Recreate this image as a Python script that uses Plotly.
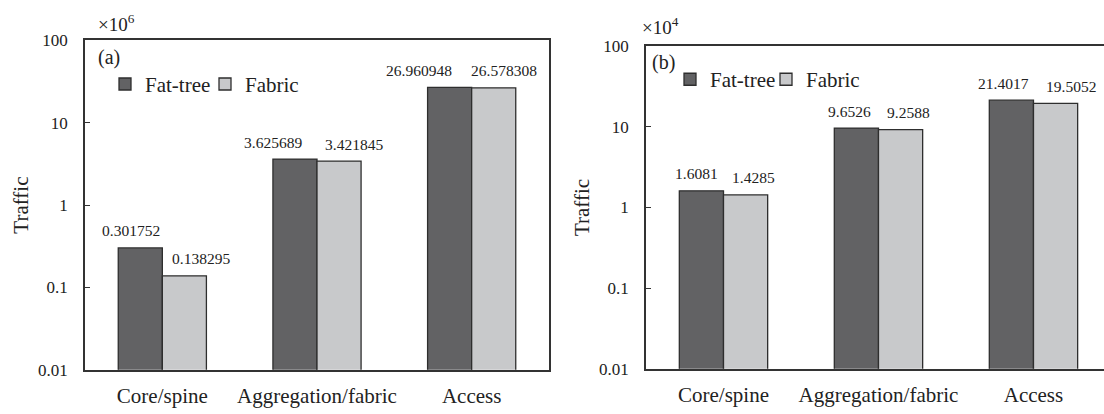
import math
import plotly.graph_objects as go

# ---------------- data ----------------
categories = ["Core/spine", "Aggregation/fabric", "Access"]
series_names = ["Fat-tree", "Fabric"]

a_fattree = [0.301752, 3.625689, 26.960948]   # panel (a), x10^6
a_fabric = [0.138295, 3.421845, 26.578308]
b_fattree = [1.6081, 9.6526, 21.4017]          # panel (b), x10^4
b_fabric = [1.4285, 9.2588, 19.5052]

y_tickvals = [0.01, 0.1, 1, 10, 100]
y_ticktext = ["0.01", "0.1", "1", "10", "100"]

# ---------------- style ----------------
W, H = 1104, 414
FONT = "Liberation Serif"
C_FAT = "#626264"
C_FAB = "#c8c9cb"
C_EDGE = "#2e2e2e"
C_AXIS = "#333333"
BARGAP = 0.43
half = (1 - BARGAP) / 4  # offset of each bar centre from category centre

# label offsets (px) to mimic hand placed data labels
dx_a = {"Fat-tree": [-9, -22, -31], "Fabric": [17, 15, 10]}
dx_b = {"Fat-tree": [-5, -7, -8], "Fabric": [8, 8, 15]}

fig = go.Figure()

panels = [
    ("x", "y", "legend", [a_fattree, a_fabric], dx_a),
    ("x2", "y2", "legend2", [b_fattree, b_fabric], dx_b),
]

annotations = []
for xa, ya, lg, vals, dx in panels:
    for name, v, col in zip(series_names, vals, [C_FAT, C_FAB]):
        fig.add_trace(go.Bar(
            x=categories, y=v, name=name, xaxis=xa, yaxis=ya, legend=lg,
            marker=dict(color=col, line=dict(color=C_EDGE, width=1.3)),
        ))
    for si, (name, v) in enumerate(zip(series_names, vals)):
        off = -half if si == 0 else half
        for ci, val in enumerate(v):
            annotations.append(dict(
                x=ci + off, y=math.log10(val), xref=xa, yref=ya,
                text=str(val), showarrow=False, xanchor="center", yanchor="middle",
                xshift=dx[name][ci], yshift=17,
                font=dict(family=FONT, size=15.5, color="#222"),
            ))

def px_x(p):
    return p / W

def px_y(p):
    return 1 - p / H

# decorations
annotations += [
    dict(x=px_x(96), y=px_y(15), xref="paper", yref="paper", text="×10<sup>6</sup>",
         showarrow=False, xanchor="left", yanchor="middle",
         font=dict(family=FONT, size=19, color="#222")),
    dict(x=px_x(640), y=px_y(18), xref="paper", yref="paper", text="×10<sup>4</sup>",
         showarrow=False, xanchor="left", yanchor="middle",
         font=dict(family=FONT, size=19, color="#222")),
    dict(x=px_x(96), y=px_y(51), xref="paper", yref="paper", text="(a)",
         showarrow=False, xanchor="left", yanchor="middle",
         font=dict(family=FONT, size=20, color="#222")),
    dict(x=px_x(650), y=px_y(56), xref="paper", yref="paper", text="(b)",
         showarrow=False, xanchor="left", yanchor="middle",
         font=dict(family=FONT, size=20, color="#222")),
]

tickfont = dict(family=FONT, size=17, color="#222")
catfont = dict(family=FONT, size=21, color="#222")
titlefont = dict(family=FONT, size=21, color="#222")

common_x = dict(type="category", showline=True, linecolor=C_AXIS, linewidth=1.5,
                ticks="", tickfont=catfont, showgrid=False, zeroline=False,
                mirror=True, ticklabelstandoff=6)
common_y = dict(type="log", range=[-2, 2], showline=True, linecolor=C_AXIS, linewidth=1.5,
                ticks="inside", ticklen=5, tickcolor=C_AXIS, tickwidth=1.2,
                tickvals=y_tickvals, ticktext=y_ticktext, tickfont=tickfont,
                showgrid=False, zeroline=False,
                title=dict(text="Traffic", font=titlefont, standoff=4),
                ticklabelstandoff=12)

legend_common = dict(orientation="h", font=dict(family=FONT, size=21, color="#222"),
                     bgcolor="rgba(0,0,0,0)", borderwidth=0, xanchor="left",
                     yanchor="middle", traceorder="normal", itemclick=False)

fig.update_layout(
    width=W, height=H,
    margin=dict(l=0, r=0, t=0, b=0),
    paper_bgcolor="white", plot_bgcolor="white",
    barmode="group", bargap=BARGAP, bargroupgap=0,
    font=dict(family=FONT, color="#222"),
    xaxis=dict(domain=[px_x(85), px_x(549)], anchor="y", range=[-0.5, 2.5], **common_x),
    yaxis=dict(domain=[px_y(378), px_y(33)], anchor="x", mirror=True, **common_y),
    xaxis2=dict(domain=[px_x(646), 1.0], anchor="y2", range=[-0.5, 2.455], **common_x),
    yaxis2=dict(domain=[px_y(377), px_y(39)], anchor="x2", mirror=False, **common_y),
    legend=dict(x=px_x(105), y=px_y(79), entrywidth=55, **legend_common),
    legend2=dict(x=px_x(670), y=px_y(74), entrywidth=51, **legend_common),
    annotations=annotations,
)

fig.write_html("out.html")
